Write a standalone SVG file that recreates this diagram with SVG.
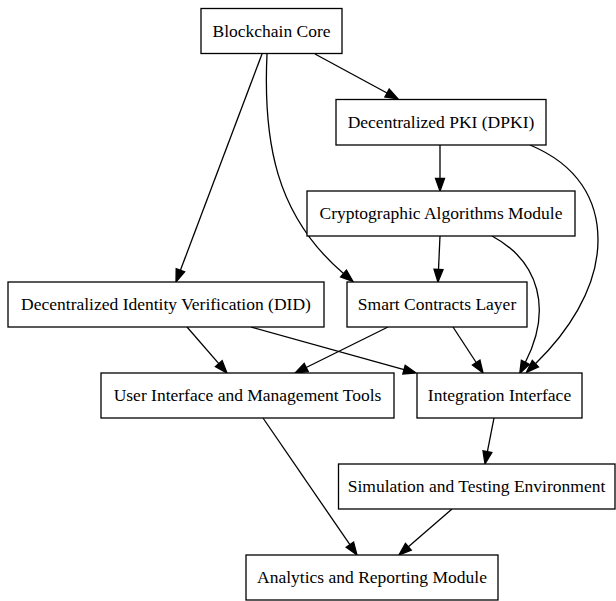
<svg xmlns="http://www.w3.org/2000/svg" width="616" height="601" viewBox="0 0 616 601">
<style>
.node rect{fill:#fff;stroke:#000;stroke-width:1.3}
.node text{font-family:"Liberation Serif","Times New Roman",serif;font-size:17.5px;fill:#000;text-anchor:middle}
.edges path{fill:none;stroke:#000;stroke-width:1.3}
</style>
<defs>
<marker id="ah" markerUnits="userSpaceOnUse" markerWidth="15" markerHeight="11" refX="1" refY="5.5" orient="auto" overflow="visible">
<path d="M1,1 L13.5,5.5 L1,10 Z" fill="#000" stroke="#000" stroke-width="1.3"/>
</marker>
</defs>
<rect width="616" height="601" fill="#fff"/>
<g class="edges">
<path d="M315,54 L387,93" marker-end="url(#ah)"/>
<path d="M262,54 L180.4,270.3" marker-end="url(#ah)"/>
<path d="M267,54 C263,140 275,215 343.5,273.5" marker-end="url(#ah)"/>
<path d="M440,145 L440,178.5" marker-end="url(#ah)"/>
<path d="M530,145 C578,165 598,200 598,240 C598,290 565,335 535.4,363.7" marker-end="url(#ah)"/>
<path d="M440,236 L438.5,269.5" marker-end="url(#ah)"/>
<path d="M492,236 C540,262 552,310 525.4,362.3" marker-end="url(#ah)"/>
<path d="M187,327 L218.8,363.6" marker-end="url(#ah)"/>
<path d="M251,327 L404,369.6" marker-end="url(#ah)"/>
<path d="M388,327 L306.2,367.5" marker-end="url(#ah)"/>
<path d="M453,327 L476.2,362.5" marker-end="url(#ah)"/>
<path d="M263,418 L349.9,544.7" marker-end="url(#ah)"/>
<path d="M494,418 L487.4,451.7" marker-end="url(#ah)"/>
<path d="M452,509 L408.4,546.8" marker-end="url(#ah)"/>
</g>
<g id="blockchain_core" class="node"><rect x="201" y="8.5" width="141" height="45"/><text x="271.5" y="36.5">Blockchain Core</text></g>
<g id="dpki" class="node"><rect x="336" y="99.5" width="210" height="45.5"/><text x="441" y="128">Decentralized PKI (DPKI)</text></g>
<g id="crypto" class="node"><rect x="307" y="191" width="268" height="45"/><text x="441" y="219">Cryptographic Algorithms Module</text></g>
<g id="did" class="node"><rect x="8" y="282" width="316" height="45"/><text x="166" y="310">Decentralized Identity Verification (DID)</text></g>
<g id="smart_contracts" class="node"><rect x="347" y="282" width="180" height="45"/><text x="437" y="310">Smart Contracts Layer</text></g>
<g id="ui_tools" class="node"><rect x="101" y="373" width="293" height="45"/><text x="247.5" y="401">User Interface and Management Tools</text></g>
<g id="integration" class="node"><rect x="417" y="373" width="165" height="45"/><text x="499.5" y="401">Integration Interface</text></g>
<g id="simulation" class="node"><rect x="338.5" y="464" width="276.5" height="45"/><text x="476.5" y="492">Simulation and Testing Environment</text></g>
<g id="analytics" class="node"><rect x="246" y="555" width="252" height="45"/><text x="372" y="583">Analytics and Reporting Module</text></g>
</svg>
